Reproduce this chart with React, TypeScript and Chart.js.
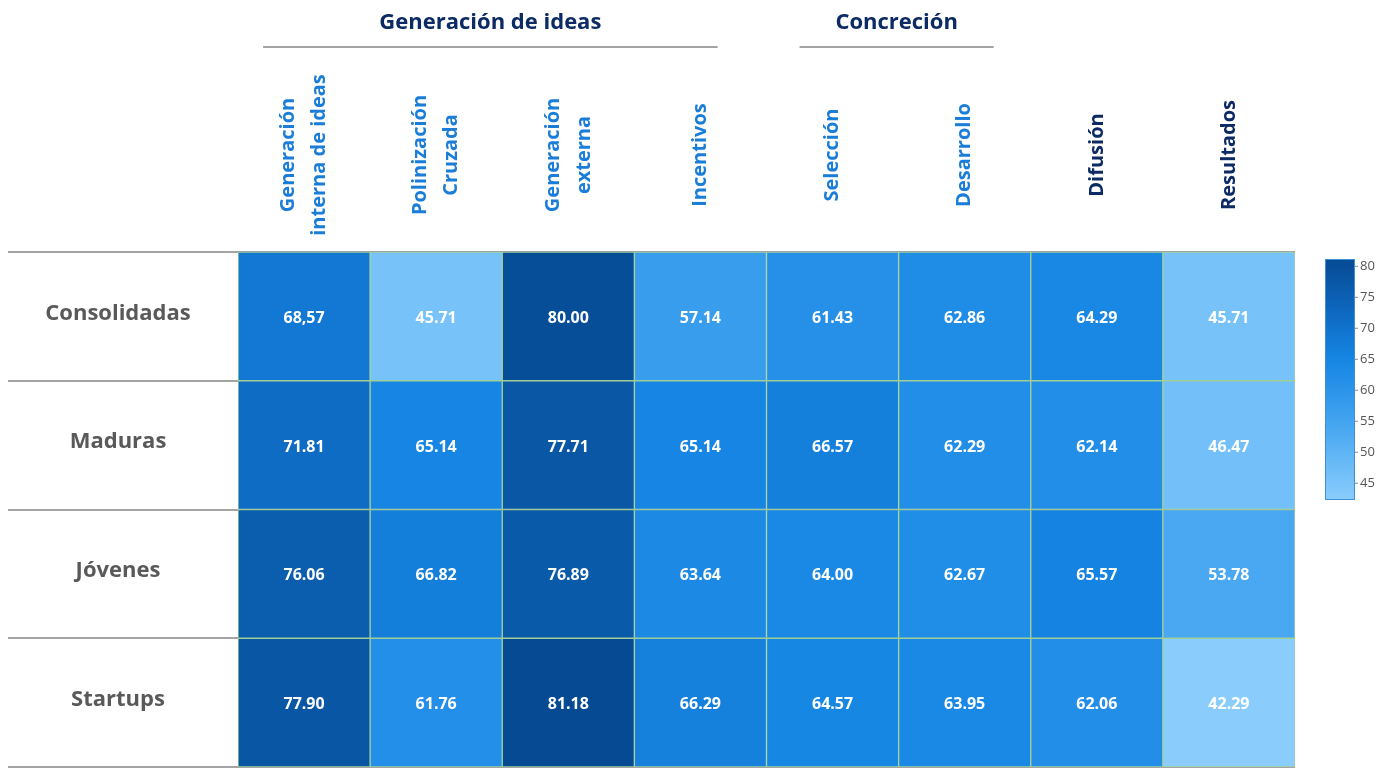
import React, { useEffect, useRef } from "react";
import { Chart, registerables } from "chart.js";

Chart.register(...registerables);

const columnHeaders: string[][] = [
  ["Generación", "interna de ideas"],
  ["Polinización", "Cruzada"],
  ["Generación", "externa"],
  ["Incentivos"],
  ["Selección"],
  ["Desarrollo"],
  ["Difusión"],
  ["Resultados"],
];
const rowLabels = ["Consolidadas", "Maduras", "Jóvenes", "Startups"];
const consolidadas = ["68,57", "45.71", "80.00", "57.14", "61.43", "62.86", "64.29", "45.71"];
const maduras = ["71.81", "65.14", "77.71", "65.14", "66.57", "62.29", "62.14", "46.47"];
const jovenes = ["76.06", "66.82", "76.89", "63.64", "64.00", "62.67", "65.57", "53.78"];
const startups = ["77.90", "61.76", "81.18", "66.29", "64.57", "63.95", "62.06", "42.29"];
const rowTexts = [consolidadas, maduras, jovenes, startups];
const colorbarTicks = [45, 50, 55, 60, 65, 70, 75, 80];
const groupTitles = ["Generación de ideas", "Concreción"];

const parse = (s: string) => parseFloat(s.replace(",", "."));
const allValues = rowTexts.flat().map(parse);
const vMin = Math.min(...allValues);
const vMax = Math.max(...allValues);

const stops: [number, number[]][] = [
  [0, [0x8a, 0xcd, 0xfd]],
  [0.3, [0x48, 0xa7, 0xf1]],
  [0.58, [0x16, 0x86, 0xe4]],
  [0.76, [0x0f, 0x6c, 0xc4]],
  [1, [0x06, 0x4a, 0x93]],
];
function colorFor(v: number): string {
  const t = Math.max(0, Math.min(1, (v - vMin) / (vMax - vMin)));
  for (let i = 1; i < stops.length; i++) {
    if (t <= stops[i][0]) {
      const [t0, c0] = stops[i - 1];
      const [t1, c1] = stops[i];
      const f = (t - t0) / (t1 - t0);
      const c = c0.map((a, k) => Math.round(a + (c1[k] - a) * f));
      return `rgb(${c[0]},${c[1]},${c[2]})`;
    }
  }
  return "rgb(6,74,147)";
}

const FONT = '"Open Sans", "DejaVu Sans", sans-serif';

const overlayPlugin = {
  id: "overlay",
  beforeDatasetsDraw(chart: any) {
    const ctx = chart.ctx as CanvasRenderingContext2D;
    const y = chart.scales.y;
    const area = chart.chartArea;
    ctx.save();
    ctx.strokeStyle = "#a4a4a4";
    ctx.lineWidth = 2;
    for (let i = 0; i <= rowLabels.length; i++) {
      const py = Math.round(y.getPixelForValue(i));
      ctx.beginPath();
      ctx.moveTo(8, py);
      ctx.lineTo(area.right, py);
      ctx.stroke();
    }
    ctx.restore();
  },
  afterDatasetsDraw(chart: any) {
    const ctx = chart.ctx as CanvasRenderingContext2D;
    const x = chart.scales.x;
    const y = chart.scales.y;
    const area = chart.chartArea;
    const colW = (area.right - area.left) / columnHeaders.length;
    ctx.save();
    // cell values
    ctx.fillStyle = "#ffffff";
    ctx.font = `bold 16px ${FONT}`;
    ctx.textAlign = "center";
    ctx.textBaseline = "middle";
    rowTexts.forEach((row, r) => {
      row.forEach((txt, c) => {
        ctx.fillText(txt, x.getPixelForValue(c), y.getPixelForValue(r + 0.5) + 2);
      });
    });
    // row labels
    ctx.fillStyle = "#595959";
    ctx.font = `bold 22px ${FONT}`;
    rowLabels.forEach((lab, r) => {
      ctx.fillText(lab, 118, y.getPixelForValue(r + 0.5) - 3);
    });
    // column headers (rotated)
    ctx.font = `bold 20px ${FONT}`;
    columnHeaders.forEach((lines, c) => {
      const cx = x.getPixelForValue(c);
      ctx.fillStyle = c >= 6 ? "#0c2a63" : "#1a7dd7";
      const n = lines.length;
      lines.forEach((ln, k) => {
        const lx = cx + (k - (n - 1) / 2) * 31;
        ctx.save();
        ctx.translate(lx, 155);
        ctx.rotate(-Math.PI / 2);
        ctx.textAlign = "center";
        ctx.textBaseline = "middle";
        ctx.fillText(ln, 0, 0);
        ctx.restore();
      });
    });
    // group titles
    const spans = [
      [0.19, 3.63],
      [4.25, 5.72],
    ];
    ctx.font = `bold 22px ${FONT}`;
    ctx.fillStyle = "#0c2a63";
    spans.forEach(([a, b], g) => {
      const x0 = area.left + a * colW;
      const x1 = area.left + b * colW;
      ctx.fillText(groupTitles[g], (x0 + x1) / 2, 23);
      ctx.strokeStyle = "#a4a4a4";
      ctx.lineWidth = 2;
      ctx.beginPath();
      ctx.moveTo(x0, 47);
      ctx.lineTo(x1, 47);
      ctx.stroke();
    });
    // colorbar
    const cbL = 1325, cbR = 1355, cbT = 259, cbB = 500;
    const grad = ctx.createLinearGradient(0, cbB, 0, cbT);
    for (let i = 0; i <= 20; i++) {
      const t = i / 20;
      grad.addColorStop(t, colorFor(vMin + t * (vMax - vMin)));
    }
    ctx.fillStyle = grad;
    ctx.fillRect(cbL, cbT, cbR - cbL, cbB - cbT);
    ctx.strokeStyle = "#3f8fd6";
    ctx.lineWidth = 1;
    ctx.strokeRect(cbL + 0.5, cbT + 0.5, cbR - cbL - 1, cbB - cbT - 1);
    ctx.font = `13px ${FONT}`;
    ctx.fillStyle = "#555555";
    ctx.textAlign = "left";
    ctx.textBaseline = "middle";
    colorbarTicks.forEach((tv) => {
      const py = cbB - ((tv - vMin) / (vMax - vMin)) * (cbB - cbT);
      ctx.strokeStyle = "#8a8a8a";
      ctx.beginPath();
      ctx.moveTo(cbR, py);
      ctx.lineTo(cbR + 3, py);
      ctx.stroke();
      ctx.fillText(String(tv), cbR + 5, py);
    });
    ctx.restore();
  },
};

export default function App() {
  const ref = useRef<HTMLCanvasElement>(null);
  useEffect(() => {
    if (!ref.current) return;
    const chart = new Chart(ref.current, {
      type: "bar",
      data: {
        labels: columnHeaders.map((h) => h.join(" ")),
        datasets: rowTexts.map((row, r) => ({
          label: rowLabels[r],
          data: row.map(() => 1),
          backgroundColor: row.map((s) => colorFor(parse(s))),
          borderColor: "rgba(160,210,150,0.95)",
          borderWidth: 1,
          borderSkipped: false as any,
          barPercentage: 1,
          categoryPercentage: 1,
        })),
      },
      options: {
        animation: false,
        responsive: true,
        maintainAspectRatio: false,
        layout: { padding: { left: 238, right: 99, top: 252, bottom: 3 } },
        plugins: { legend: { display: false }, tooltip: { enabled: false } },
        scales: {
          x: { stacked: true, display: false, grid: { display: false } },
          y: { stacked: true, display: false, min: 0, max: 4, reverse: true },
        },
      },
      plugins: [overlayPlugin],
    });
    return () => chart.destroy();
  }, []);
  return (
    <div style={{ position: "absolute", left: 0, top: 0, width: 1394, height: 770, background: "#fff" }}>
      <canvas ref={ref} />
    </div>
  );
}
